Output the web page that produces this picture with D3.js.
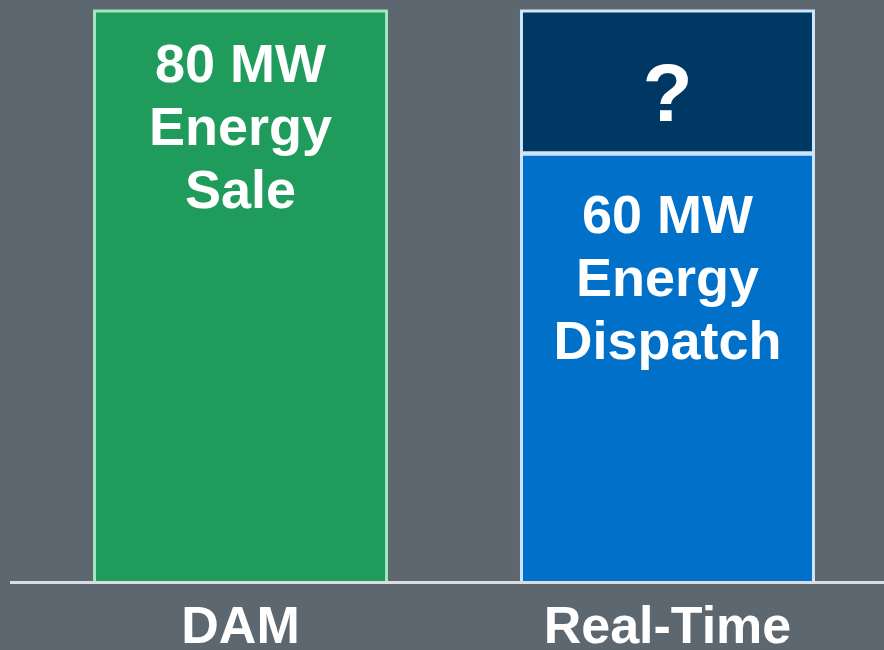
<!DOCTYPE html>
<html>
<head>
<meta charset="utf-8">
<script src="https://cdn.jsdelivr.net/npm/d3@7"></script>
<style>
  html, body { margin: 0; padding: 0; background: #5c6770; }
  svg { display: block; }
  text { font-family: "Liberation Sans", Arial, sans-serif; font-weight: bold; fill: #ffffff; }
</style>
</head>
<body>
<svg id="chart" width="884" height="650"></svg>
<script>
// Market categories along the x axis
const categories = ["DAM", "Real-Time"];

// Stacked segments per market (MW)
const damSale = [80, 0];          // day-ahead energy sale
const rtDispatch = [0, 60];       // real-time energy dispatch
const rtUnknown = [0, 20];        // remaining, undetermined real-time quantity

// Text drawn inside each segment
const damLabel = ["80 MW", "Energy", "Sale"];
const dispatchLabel = ["60 MW", "Energy", "Dispatch"];
const unknownLabel = ["?"];

const svg = d3.select("#chart");
const W = 884, H = 650;
const baseY = 582.5;

const x = d3.scaleBand()
  .domain(categories)
  .range([-38.5, 943.5])
  .paddingInner(0.7)
  .paddingOuter(0.5);

const y = d3.scaleLinear()
  .domain([0, 80])
  .range([baseY, 9.5]);

// Segment table built from the series arrays
const segments = [];
categories.forEach((c, i) => {
  let acc = 0;
  [
    { v: damSale[i], fill: "#1f9b5c", stroke: "#a3e6c2", lines: damLabel, off: 72 },
    { v: rtDispatch[i], fill: "#0070c9", stroke: "#cfe6fa", lines: dispatchLabel, off: 80 },
    { v: rtUnknown[i], fill: "#003864", stroke: "#cfe6fa", lines: unknownLabel, off: 40 }
  ].forEach(s => {
    if (s.v > 0) {
      segments.push({ cat: c, y0: acc, y1: acc + s.v, ...s });
      acc += s.v;
    }
  });
});

const bw = 292;
const g = svg.append("g");
const center = c => x(c) + x.bandwidth() / 2 + 1.5;

g.selectAll("rect.seg")
  .data(segments)
  .join("rect")
  .attr("class", "seg")
  .attr("x", d => center(d.cat) - bw / 2)
  .attr("width", bw)
  .attr("y", d => y(d.y1) + 1.5)
  .attr("height", d => y(d.y0) - y(d.y1) - 1.5)
  .attr("fill", d => d.fill)
  .attr("stroke", d => d.stroke)
  .attr("stroke-width", 3);

// Baseline
svg.append("line")
  .attr("x1", 10).attr("x2", W)
  .attr("y1", baseY).attr("y2", baseY)
  .attr("stroke", "#dadee1")
  .attr("stroke-width", 3);

// Segment labels
segments.forEach(d => {
  const cx = center(d.cat);
  const t = g.append("text")
    .attr("text-anchor", "middle")
    .attr("font-size", d.lines.length === 1 ? 82 : 54);
  if (d.lines.length === 1) {
    const mid = (y(d.y1) + y(d.y0)) / 2;
    t.attr("x", cx).attr("y", mid + d.off).text(d.lines[0]);
  } else {
    d.lines.forEach((ln, k) => {
      t.append("tspan")
        .attr("x", cx)
        .attr("y", y(d.y1) + d.off + k * 63)
        .text(ln);
    });
  }
});

// Category axis labels
const xAxis = d3.axisBottom(x).tickSize(0).tickPadding(0);
const ax = svg.append("g")
  .attr("transform", `translate(1.5, ${baseY})`)
  .call(xAxis);
ax.select(".domain").remove();
ax.selectAll("text")
  .attr("y", 60)
  .attr("dy", 0)
  .attr("font-size", 52)
  .style("font-family", "'Liberation Sans', Arial, sans-serif")
  .style("font-weight", "bold")
  .attr("fill", "#ffffff");
</script>
</body>
</html>
